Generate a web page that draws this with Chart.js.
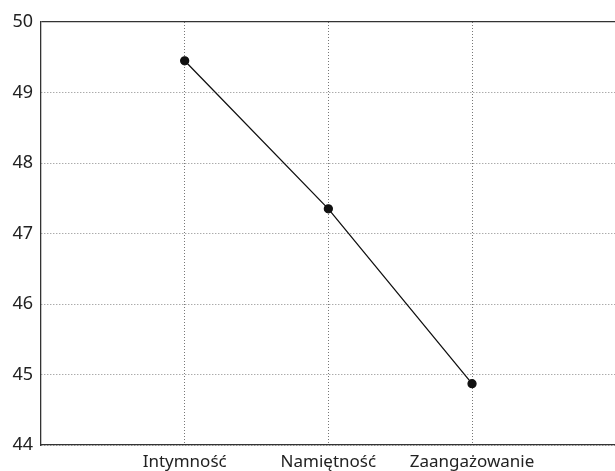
<!DOCTYPE html>
<html>
<head>
<meta charset="utf-8">
<script src="https://cdn.jsdelivr.net/npm/chart.js@4"></script>
<style>
  html, body { margin: 0; padding: 0; background: #fff; overflow: hidden; }
  #wrap { position: absolute; left: 0; top: 0; width: 621px; height: 480px; }
</style>
</head>
<body>
<div id="wrap"><canvas id="chart" width="621" height="480"></canvas></div>
<script>
const categories = ['Intymność', 'Namiętność', 'Zaangażowanie'];
const values = [49.45, 47.35, 44.87];
const yTicks = [44, 45, 46, 47, 48, 49, 50];

const points = values.map((v, i) => ({ x: i + 1, y: v }));

const ctx = document.getElementById('chart').getContext('2d');
new Chart(ctx, {
    type: 'line',
    data: {
        datasets: [{
            data: points,
            borderColor: '#111',
            borderWidth: 1.3,
            backgroundColor: '#111',
            pointRadius: 4,
            pointHoverRadius: 4,
            tension: 0
        }]
    },
    options: {
        responsive: false,
        animation: false,
        layout: { padding: { top: 22, right: 0, left: 0, bottom: 0 } },
        plugins: { legend: { display: false }, tooltip: { enabled: false } },
        scales: {
            x: {
                type: 'linear',
                min: 0,
                max: 4,
                afterBuildTicks: axis => {
                    axis.ticks = categories.map((c, i) => ({ value: i + 1 }));
                },
                afterFit: axis => { axis.height = 35; },
                ticks: {
                    callback: v => categories[v - 1] || '',
                    font: { family: 'Noto Sans', size: 17 },
                    color: '#222',
                    padding: 7,
                    maxRotation: 0,
                    autoSkip: false
                },
                grid: { color: '#777', lineWidth: 1, drawTicks: false },
                border: { display: true, color: '#333', width: 1.3, dash: [1, 2] }
            },
            y: {
                min: yTicks[0],
                max: yTicks[yTicks.length - 1],
                afterBuildTicks: axis => {
                    axis.ticks = yTicks.map(v => ({ value: v }));
                },
                afterFit: axis => { axis.width = 41; },
                ticks: {
                    font: { family: 'Noto Sans', size: 18 },
                    color: '#222',
                    padding: 8
                },
                grid: {
                    color: c => (c.tick && c.tick.value === 50) ? '#333' : '#888',
                    lineWidth: c => (c.tick && c.tick.value === 50) ? 1.3 : 1,
                    drawTicks: false
                },
                border: {
                    display: true,
                    color: '#333',
                    width: 1.3,
                    dash: c => (c.tick && c.tick.value === 50) ? [] : [1, 2]
                }
            }
        }
    }
});
</script>
</body>
</html>
